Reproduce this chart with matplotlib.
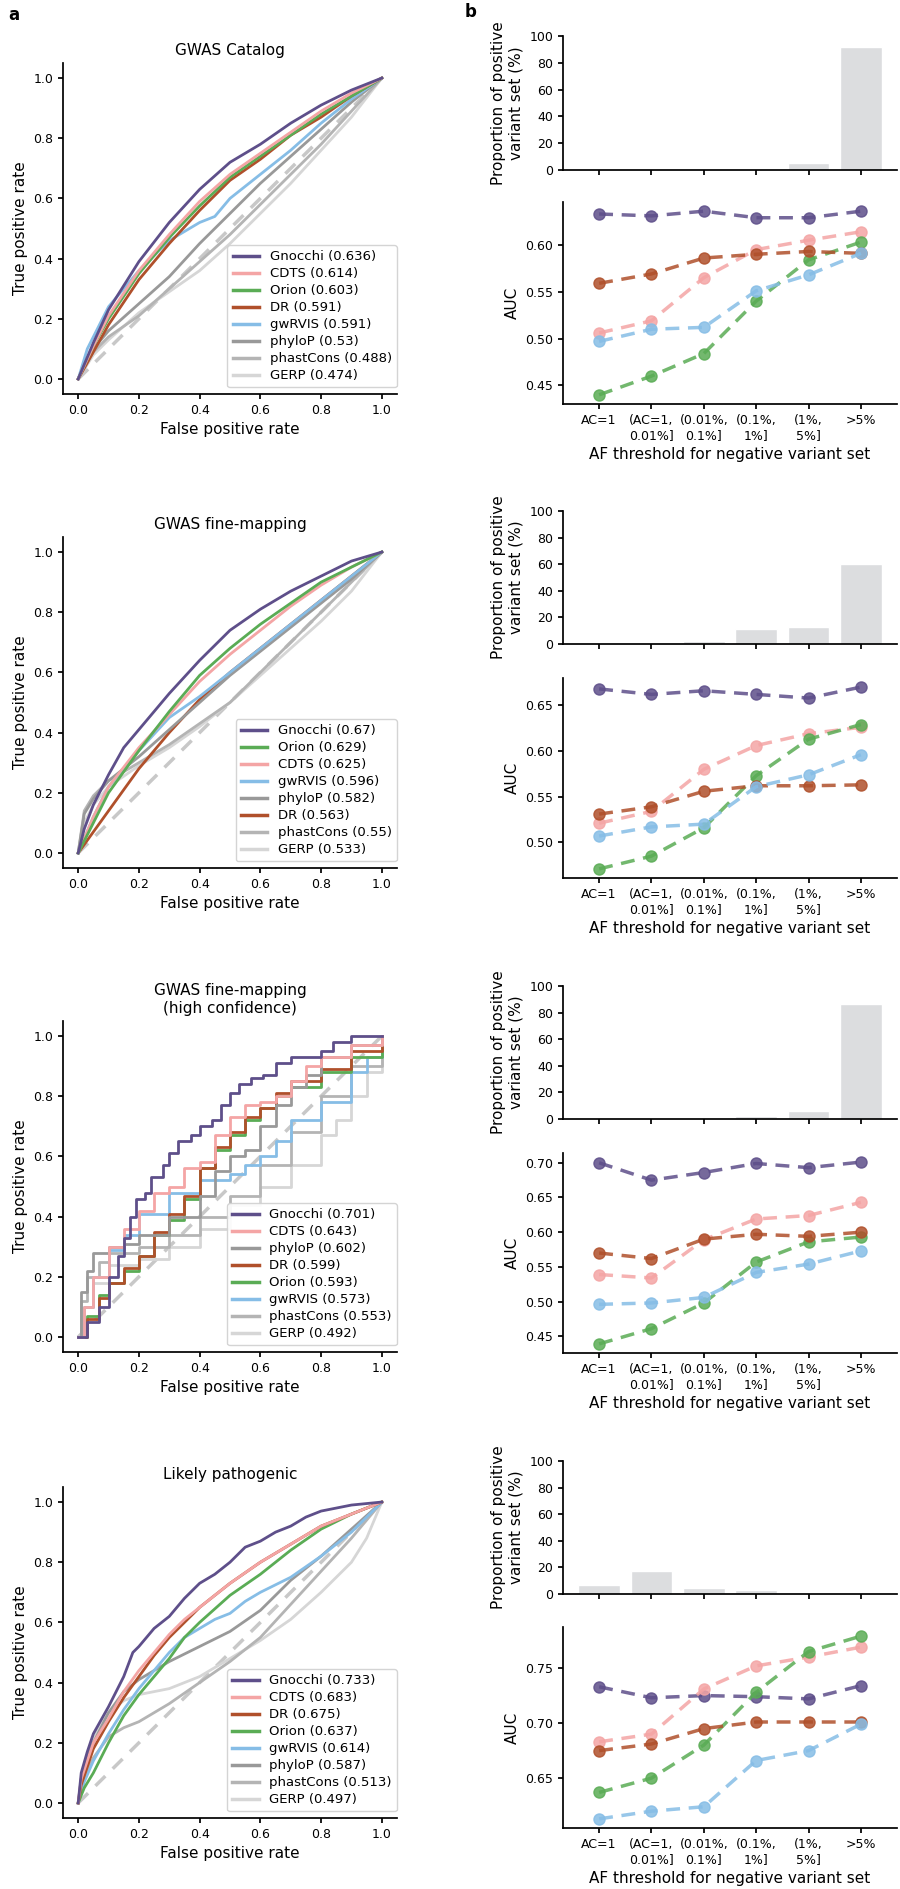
import numpy as np
import matplotlib.pyplot as plt
from matplotlib.ticker import MultipleLocator

# AF bins (x axis of panel b)
af_bins = ["AC=1", "(AC=1,\n0.01%]", "(0.01%,\n0.1%]", "(0.1%,\n1%]", "(1%,\n5%]", ">5%"]

colors = {
    "Gnocchi": "#5e4f8a",
    "CDTS": "#f4a5a5",
    "Orion": "#5aac55",
    "DR": "#b0502b",
    "gwRVIS": "#86bde6",
    "phyloP": "#999999",
    "phastCons": "#b4b4b4",
    "GERP": "#d6d6d6",
}

titles = ["GWAS Catalog", "GWAS fine-mapping", "GWAS fine-mapping\n(high confidence)", "Likely pathogenic"]

# legend AUCs (order = legend order)
auc_catalog = {"Gnocchi": 0.636, "CDTS": 0.614, "Orion": 0.603, "DR": 0.591, "gwRVIS": 0.591,
               "phyloP": 0.53, "phastCons": 0.488, "GERP": 0.474}
auc_finemap = {"Gnocchi": 0.67, "Orion": 0.629, "CDTS": 0.625, "gwRVIS": 0.596, "phyloP": 0.582,
               "DR": 0.563, "phastCons": 0.55, "GERP": 0.533}
auc_highconf = {"Gnocchi": 0.701, "CDTS": 0.643, "phyloP": 0.602, "DR": 0.599, "Orion": 0.593,
                "gwRVIS": 0.573, "phastCons": 0.553, "GERP": 0.492}
auc_pathogenic = {"Gnocchi": 0.733, "CDTS": 0.683, "DR": 0.675, "Orion": 0.637, "gwRVIS": 0.614,
                  "phyloP": 0.587, "phastCons": 0.513, "GERP": 0.497}

# ROC curves: (fpr, tpr) points
roc_catalog = {
    "Gnocchi": [[0, 0], [0.05, 0.12], [0.1, 0.23], [0.2, 0.39], [0.3, 0.52], [0.4, 0.63], [0.5, 0.72],
                [0.6, 0.78], [0.7, 0.85], [0.8, 0.91], [0.9, 0.96], [1, 1]],
    "CDTS": [[0, 0], [0.05, 0.11], [0.1, 0.21], [0.2, 0.36], [0.3, 0.48], [0.4, 0.59], [0.5, 0.68],
             [0.6, 0.75], [0.7, 0.82], [0.8, 0.89], [0.9, 0.95], [1, 1]],
    "Orion": [[0, 0], [0.05, 0.11], [0.1, 0.2], [0.2, 0.35], [0.3, 0.47], [0.4, 0.575], [0.5, 0.67],
              [0.6, 0.74], [0.7, 0.81], [0.8, 0.88], [0.9, 0.94], [1, 1]],
    "DR": [[0, 0], [0.05, 0.09], [0.1, 0.18], [0.2, 0.33], [0.3, 0.45], [0.4, 0.56], [0.5, 0.66],
           [0.6, 0.73], [0.7, 0.81], [0.8, 0.87], [0.9, 0.94], [1, 1]],
    "gwRVIS": [[0, 0], [0.03, 0.1], [0.1, 0.24], [0.2, 0.36], [0.3, 0.46], [0.4, 0.52], [0.45, 0.54],
               [0.5, 0.6], [0.6, 0.68], [0.7, 0.76], [0.8, 0.85], [0.9, 0.93], [1, 1]],
    "phyloP": [[0, 0], [0.05, 0.1], [0.1, 0.16], [0.2, 0.25], [0.3, 0.34], [0.4, 0.45], [0.5, 0.55],
               [0.6, 0.65], [0.7, 0.74], [0.8, 0.83], [0.9, 0.92], [1, 1]],
    "phastCons": [[0, 0], [0.05, 0.09], [0.1, 0.14], [0.2, 0.21], [0.3, 0.3], [0.4, 0.39], [0.5, 0.48],
                  [0.6, 0.58], [0.7, 0.68], [0.8, 0.78], [0.9, 0.89], [1, 1]],
    "GERP": [[0, 0], [0.05, 0.08], [0.1, 0.13], [0.2, 0.22], [0.3, 0.29], [0.4, 0.36], [0.5, 0.45],
             [0.6, 0.55], [0.7, 0.65], [0.8, 0.76], [0.9, 0.87], [1, 1]],
}
roc_finemap = {
    "Gnocchi": [[0, 0], [0.02, 0.08], [0.05, 0.16], [0.1, 0.26], [0.15, 0.35], [0.2, 0.41], [0.3, 0.53],
                [0.4, 0.64], [0.5, 0.74], [0.6, 0.81], [0.7, 0.87], [0.8, 0.92], [0.9, 0.97], [1, 1]],
    "Orion": [[0, 0], [0.05, 0.1], [0.1, 0.2], [0.2, 0.34], [0.3, 0.47], [0.4, 0.59], [0.5, 0.68],
              [0.6, 0.76], [0.7, 0.83], [0.8, 0.9], [0.9, 0.95], [1, 1]],
    "CDTS": [[0, 0], [0.05, 0.12], [0.1, 0.22], [0.2, 0.35], [0.3, 0.46], [0.4, 0.57], [0.5, 0.66],
             [0.6, 0.74], [0.7, 0.82], [0.8, 0.89], [0.9, 0.95], [1, 1]],
    "gwRVIS": [[0, 0], [0.05, 0.12], [0.1, 0.22], [0.2, 0.34], [0.3, 0.45], [0.4, 0.52], [0.5, 0.6],
               [0.6, 0.68], [0.7, 0.76], [0.8, 0.84], [0.9, 0.92], [1, 1]],
    "phyloP": [[0, 0], [0.02, 0.13], [0.05, 0.18], [0.1, 0.24], [0.2, 0.32], [0.3, 0.41], [0.4, 0.5],
               [0.5, 0.59], [0.6, 0.67], [0.7, 0.75], [0.8, 0.83], [0.9, 0.91], [1, 1]],
    "DR": [[0, 0], [0.05, 0.07], [0.1, 0.14], [0.2, 0.28], [0.3, 0.4], [0.4, 0.51], [0.5, 0.6],
           [0.6, 0.68], [0.7, 0.76], [0.8, 0.84], [0.9, 0.92], [1, 1]],
    "phastCons": [[0, 0], [0.02, 0.14], [0.05, 0.19], [0.1, 0.24], [0.2, 0.3], [0.3, 0.36], [0.4, 0.43],
                  [0.5, 0.5], [0.6, 0.6], [0.7, 0.7], [0.8, 0.8], [0.9, 0.9], [1, 1]],
    "GERP": [[0, 0], [0.02, 0.1], [0.05, 0.16], [0.1, 0.22], [0.2, 0.29], [0.3, 0.35], [0.4, 0.42],
             [0.5, 0.5], [0.6, 0.59], [0.7, 0.68], [0.8, 0.77], [0.9, 0.87], [1, 1]],
}
roc_highconf = {
    "Gnocchi": [[0, 0], [0.03, 0.05], [0.07, 0.1], [0.1, 0.2], [0.13, 0.27], [0.15, 0.33], [0.17, 0.4],
                [0.19, 0.46], [0.22, 0.48], [0.24, 0.53], [0.28, 0.57], [0.3, 0.61], [0.33, 0.65],
                [0.37, 0.67], [0.4, 0.7], [0.44, 0.72], [0.47, 0.77], [0.5, 0.81], [0.53, 0.84],
                [0.57, 0.86], [0.61, 0.87], [0.65, 0.91], [0.7, 0.93], [0.8, 0.95], [0.84, 0.98],
                [0.9, 1.0], [1, 1]],
    "CDTS": [[0, 0], [0.02, 0.1], [0.05, 0.2], [0.1, 0.3], [0.15, 0.36], [0.2, 0.42], [0.25, 0.48],
             [0.3, 0.5], [0.35, 0.56], [0.4, 0.58], [0.45, 0.67], [0.5, 0.73], [0.55, 0.77], [0.6, 0.78],
             [0.65, 0.8], [0.7, 0.85], [0.75, 0.9], [0.8, 0.93], [0.9, 0.97], [1, 1]],
    "phyloP": [[0, 0], [0.01, 0.15], [0.03, 0.22], [0.05, 0.28], [0.1, 0.3], [0.15, 0.31], [0.2, 0.34],
               [0.3, 0.4], [0.4, 0.47], [0.45, 0.55], [0.5, 0.6], [0.55, 0.62], [0.6, 0.7], [0.65, 0.77],
               [0.7, 0.83], [0.75, 0.87], [0.8, 0.93], [0.9, 0.97], [1, 1]],
    "DR": [[0, 0], [0.03, 0.06], [0.07, 0.13], [0.1, 0.18], [0.15, 0.23], [0.2, 0.27], [0.25, 0.35],
           [0.3, 0.41], [0.35, 0.47], [0.4, 0.56], [0.45, 0.63], [0.5, 0.68], [0.55, 0.73], [0.6, 0.76],
           [0.65, 0.81], [0.7, 0.85], [0.8, 0.89], [0.9, 0.95], [1, 1]],
    "Orion": [[0, 0], [0.03, 0.07], [0.07, 0.14], [0.1, 0.18], [0.15, 0.22], [0.2, 0.27], [0.25, 0.34],
              [0.3, 0.39], [0.35, 0.46], [0.4, 0.56], [0.45, 0.62], [0.5, 0.67], [0.55, 0.72], [0.6, 0.76],
              [0.65, 0.8], [0.7, 0.83], [0.8, 0.88], [0.9, 0.93], [1, 1]],
    "gwRVIS": [[0, 0], [0.02, 0.1], [0.05, 0.2], [0.1, 0.29], [0.15, 0.34], [0.2, 0.41], [0.3, 0.48],
               [0.4, 0.52], [0.5, 0.54], [0.55, 0.57], [0.6, 0.6], [0.65, 0.65], [0.7, 0.72], [0.8, 0.78],
               [0.9, 0.88], [0.95, 0.93], [1, 1]],
    "phastCons": [[0, 0], [0.01, 0.12], [0.03, 0.2], [0.07, 0.25], [0.1, 0.28], [0.2, 0.3], [0.3, 0.34],
                  [0.4, 0.4], [0.5, 0.47], [0.6, 0.57], [0.7, 0.68], [0.8, 0.8], [0.9, 0.9], [1, 1]],
    "GERP": [[0, 0], [0.02, 0.1], [0.05, 0.18], [0.1, 0.24], [0.2, 0.26], [0.3, 0.3], [0.4, 0.36],
             [0.5, 0.44], [0.6, 0.5], [0.7, 0.57], [0.8, 0.67], [0.85, 0.72], [0.9, 0.8], [0.95, 0.88],
             [1, 1]],
}
roc_pathogenic = {
    "Gnocchi": [[0, 0], [0.01, 0.1], [0.03, 0.17], [0.05, 0.23], [0.1, 0.32], [0.15, 0.42], [0.18, 0.5],
                [0.2, 0.52], [0.25, 0.58], [0.3, 0.62], [0.35, 0.68], [0.4, 0.73], [0.45, 0.76],
                [0.5, 0.8], [0.55, 0.85], [0.6, 0.87], [0.65, 0.9], [0.7, 0.92], [0.75, 0.95],
                [0.8, 0.97], [0.9, 0.99], [1, 1]],
    "CDTS": [[0, 0], [0.01, 0.08], [0.03, 0.14], [0.05, 0.2], [0.1, 0.28], [0.15, 0.37], [0.2, 0.44],
             [0.25, 0.5], [0.3, 0.56], [0.35, 0.61], [0.4, 0.65], [0.5, 0.73], [0.6, 0.8], [0.7, 0.86],
             [0.8, 0.92], [0.9, 0.96], [1, 1]],
    "DR": [[0, 0], [0.01, 0.06], [0.03, 0.12], [0.05, 0.18], [0.1, 0.27], [0.15, 0.35], [0.2, 0.42],
           [0.25, 0.49], [0.3, 0.55], [0.35, 0.6], [0.4, 0.65], [0.5, 0.73], [0.6, 0.8], [0.7, 0.86],
           [0.8, 0.92], [0.9, 0.96], [1, 1]],
    "Orion": [[0, 0], [0.02, 0.05], [0.05, 0.1], [0.1, 0.2], [0.15, 0.29], [0.2, 0.36], [0.25, 0.42],
              [0.3, 0.48], [0.35, 0.55], [0.4, 0.6], [0.5, 0.69], [0.6, 0.76], [0.7, 0.84], [0.8, 0.91],
              [0.9, 0.96], [1, 1]],
    "gwRVIS": [[0, 0], [0.02, 0.07], [0.05, 0.14], [0.1, 0.23], [0.15, 0.31], [0.2, 0.38], [0.25, 0.44],
               [0.3, 0.5], [0.35, 0.55], [0.4, 0.58], [0.45, 0.61], [0.5, 0.63], [0.55, 0.67], [0.6, 0.7],
               [0.7, 0.75], [0.8, 0.82], [0.9, 0.9], [1, 1]],
    "phyloP": [[0, 0], [0.01, 0.08], [0.03, 0.15], [0.05, 0.2], [0.1, 0.3], [0.15, 0.37], [0.2, 0.41],
               [0.3, 0.47], [0.4, 0.52], [0.5, 0.57], [0.6, 0.64], [0.7, 0.74], [0.8, 0.82], [0.9, 0.91],
               [1, 1]],
    "phastCons": [[0, 0], [0.02, 0.08], [0.05, 0.15], [0.1, 0.22], [0.15, 0.25], [0.2, 0.27], [0.3, 0.33],
                  [0.4, 0.4], [0.5, 0.47], [0.6, 0.55], [0.7, 0.66], [0.8, 0.77], [0.9, 0.88], [1, 1]],
    "GERP": [[0, 0], [0.02, 0.12], [0.05, 0.22], [0.1, 0.3], [0.15, 0.34], [0.2, 0.36], [0.3, 0.38],
             [0.4, 0.42], [0.5, 0.48], [0.6, 0.54], [0.7, 0.61], [0.8, 0.7], [0.9, 0.8], [0.95, 0.88],
             [1, 1]],
}

# proportion of positive variant set per AF bin (%)
prop_catalog = [0.1, 0.2, 0.3, 1.0, 5.5, 91.5]
prop_finemap = [0.3, 1.0, 2.5, 11.5, 12.8, 60.0]
prop_highconf = [0.2, 0.3, 0.5, 2.5, 5.8, 86.5]
prop_pathogenic = [7.0, 17.5, 4.7, 3.0, 0.2, 0.1]

# AUC per AF bin
bin_catalog = {
    "Gnocchi": [0.633, 0.631, 0.636, 0.629, 0.629, 0.636],
    "CDTS": [0.506, 0.519, 0.565, 0.595, 0.605, 0.614],
    "Orion": [0.440, 0.460, 0.484, 0.540, 0.584, 0.603],
    "DR": [0.559, 0.569, 0.586, 0.590, 0.593, 0.591],
    "gwRVIS": [0.497, 0.510, 0.512, 0.551, 0.568, 0.591],
}
bin_finemap = {
    "Gnocchi": [0.668, 0.662, 0.666, 0.662, 0.658, 0.670],
    "CDTS": [0.521, 0.534, 0.580, 0.606, 0.619, 0.626],
    "Orion": [0.471, 0.485, 0.516, 0.573, 0.613, 0.629],
    "DR": [0.531, 0.539, 0.556, 0.562, 0.562, 0.563],
    "gwRVIS": [0.507, 0.517, 0.520, 0.561, 0.574, 0.596],
}
bin_highconf = {
    "Gnocchi": [0.700, 0.675, 0.686, 0.699, 0.693, 0.701],
    "CDTS": [0.539, 0.534, 0.589, 0.619, 0.624, 0.643],
    "Orion": [0.439, 0.461, 0.498, 0.557, 0.586, 0.593],
    "DR": [0.570, 0.562, 0.590, 0.597, 0.594, 0.600],
    "gwRVIS": [0.496, 0.498, 0.506, 0.542, 0.554, 0.573],
}
bin_pathogenic = {
    "Gnocchi": [0.733, 0.723, 0.725, 0.724, 0.722, 0.734],
    "CDTS": [0.683, 0.690, 0.731, 0.752, 0.760, 0.769],
    "Orion": [0.637, 0.650, 0.680, 0.728, 0.765, 0.779],
    "DR": [0.675, 0.681, 0.695, 0.701, 0.701, 0.701],
    "gwRVIS": [0.613, 0.620, 0.624, 0.666, 0.675, 0.699],
}

plt.rcParams['font.family'] = 'DejaVu Sans'
plt.rcParams['axes.linewidth'] = 1.25
plt.rcParams['xtick.major.width'] = 1.25
plt.rcParams['ytick.major.width'] = 1.25
plt.rcParams['xtick.labelsize'] = 9
plt.rcParams['ytick.labelsize'] = 9

W, H = 900, 1889
fig = plt.figure(figsize=(W / 100, H / 100), dpi=100)


def px_axes(x0, y0, x1, y1, **kw):
    return fig.add_axes([x0 / W, 1 - y1 / H, (x1 - x0) / W, (y1 - y0) / H], **kw)


def clean(ax):
    ax.spines['top'].set_visible(False)
    ax.spines['right'].set_visible(False)


roc_rows = [(63, 394), (537, 868), (1021, 1352), (1487, 1818)]
bar_rows = [(36, 170), (511, 644), (986, 1119), (1461, 1594)]
auc_rows = [(202, 404), (678, 878), (1153, 1353), (1627, 1828)]

rocs = [roc_catalog, roc_finemap, roc_highconf, roc_pathogenic]
aucs = [auc_catalog, auc_finemap, auc_highconf, auc_pathogenic]
props = [prop_catalog, prop_finemap, prop_highconf, prop_pathogenic]
bins = [bin_catalog, bin_finemap, bin_highconf, bin_pathogenic]

for i in range(4):
    # ROC panel
    ax = px_axes(63, roc_rows[i][0], 397, roc_rows[i][1])
    clean(ax)
    ax.plot([0, 1], [0, 1], color='#c8c8c8', lw=2.5, ls=(0, (4, 3)), zorder=1)
    names = list(aucs[i].keys())
    for k, name in enumerate(reversed(names)):
        pts = np.array(rocs[i][name])
        ax.plot(pts[:, 0], pts[:, 1], color=colors[name], lw=2,
                drawstyle='steps-post' if i == 2 else 'default', zorder=2 + k)
    handles = [plt.Line2D([], [], color=colors[n], lw=2.5) for n in names]
    labels = [f"{n} ({aucs[i][n]})" for n in names]
    ax.legend(handles, labels, loc='lower right', fontsize=9.5, labelspacing=0.3,
              bbox_to_anchor=(1.02, 0.0), edgecolor='#d0d0d0', framealpha=0.9)
    ax.set_xticks([0, 0.2, 0.4, 0.6, 0.8, 1.0])
    ax.set_yticks([0, 0.2, 0.4, 0.6, 0.8, 1.0])
    ax.set_xlabel("False positive rate", fontsize=11)
    ax.set_ylabel("True positive rate", fontsize=11)
    ax.set_title(titles[i], fontsize=11)

    # proportion bars
    axb = px_axes(563, bar_rows[i][0], 897, bar_rows[i][1])
    clean(axb)
    x = np.arange(len(af_bins))
    axb.bar(x, props[i], width=0.8, color='#dcdddf', edgecolor='white', linewidth=1)
    axb.set_ylim(0, 100)
    axb.set_yticks([0, 20, 40, 60, 80, 100])
    axb.set_xticks(x)
    axb.set_xticklabels([])
    axb.set_ylabel("Proportion of positive\nvariant set (%)", fontsize=11)

    # AUC by AF bin
    axa = px_axes(563, auc_rows[i][0], 897, auc_rows[i][1])
    clean(axa)
    for name, vals in bins[i].items():
        axa.plot(x, vals, color=colors[name], lw=2.5, ls=(0, (4, 2.5)), marker='o', ms=8, alpha=0.85)
    axa.set_xlim(axb.get_xlim())
    axa.yaxis.set_major_locator(MultipleLocator(0.05))
    axa.set_xticks(x)
    axa.set_xticklabels(af_bins)
    axa.set_ylabel("AUC", fontsize=11)
    axa.set_xlabel("AF threshold for negative variant set", fontsize=11)

fig.text(8 / W, 1 - 15 / H, "a", fontsize=12, fontweight='bold', va='center', ha='left')
fig.text(465 / W, 1 - 12 / H, "b", fontsize=12, fontweight='bold', va='center', ha='left')

fig.savefig("out.png", dpi=100)
